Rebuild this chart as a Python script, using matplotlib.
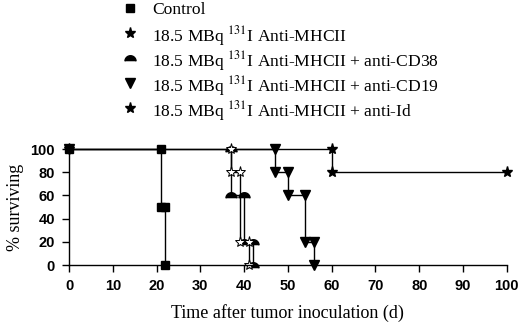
import numpy as np
import matplotlib.pyplot as plt
from matplotlib.lines import Line2D

plt.rcParams['mathtext.fontset'] = 'stix'

# Kaplan-Meier style steps (day, % surviving)
ctrl_d = [0, 21, 21, 22, 22]
ctrl_s = [100, 100, 50, 50, 0]
mhc_d = [37, 37, 39, 39, 41, 41]
mhc_s = [100, 80, 80, 20, 20, 0]
cd38_d = [37, 37, 40, 40, 42, 42]
cd38_s = [100, 60, 60, 20, 20, 0]
cd19_d = [0, 47, 47, 50, 50, 54, 54, 56, 56]
cd19_s = [100, 100, 80, 80, 60, 60, 20, 20, 0]
aid_d = [0, 60, 60, 100]
aid_s = [100, 100, 80, 80]

labels = ['Control',
          r'18.5 MBq $^{131}$I Anti-MHCII',
          r'18.5 MBq $^{131}$I Anti-MHCII + anti-CD38',
          r'18.5 MBq $^{131}$I Anti-MHCII + anti-CD19',
          r'18.5 MBq $^{131}$I Anti-MHCII + anti-Id']
xticks = np.arange(0, 101, 10)
yticks = np.arange(0, 101, 20)

# dome marker (half circle)
t = np.linspace(0, np.pi, 20)
dome = list(zip(np.cos(t), np.sin(t) - 0.5))

fig = plt.figure(figsize=(5.2, 3.22), dpi=100)
ax = fig.add_axes([0.1327, 0.177, 0.842, 0.36])

lw = 1.0
ax.plot(aid_d, aid_s, color='black', lw=lw, marker='*', ms=8, mfc='black', mec='black', clip_on=False)
ax.plot(cd19_d, cd19_s, color='black', lw=lw, marker='v', ms=6.5, mfc='black', mec='black', clip_on=False)
ax.plot(cd38_d, cd38_s, color='black', lw=lw, marker=dome, ms=8, mfc='black', mec='black', clip_on=False)
ax.plot(mhc_d, mhc_s, color='black', lw=lw, marker='*', ms=8, mfc='white', mec='black', mew=0.7, clip_on=False)
ax.plot(ctrl_d, ctrl_s, color='black', lw=lw, marker='s', ms=6, mfc='black', mec='black', clip_on=False)

ax.set_xlim(0, 100)
ax.set_ylim(0, 100)
ax.set_xticks(xticks)
ax.set_yticks(yticks)
for s in ['top', 'right']:
    ax.spines[s].set_visible(False)
for s in ['left', 'bottom']:
    ax.spines[s].set_linewidth(1.0)
ax.tick_params(direction='out', length=5, width=1.0, pad=5)
for lab in ax.get_xticklabels() + ax.get_yticklabels():
    lab.set_fontfamily('Liberation Sans')
    lab.set_fontweight('bold')
    lab.set_fontsize(10.5)

ax.set_xlabel('Time after tumor inoculation (d)', family='Liberation Serif', fontsize=13, labelpad=8)
ax.set_ylabel('% surviving', family='Liberation Serif', fontsize=13, labelpad=5)

# legend drawn by hand so rows are evenly spaced
markers = [('s', 6), ('*', 8), (dome, 8), ('v', 6.5), ('*', 8)]
for i, (lab, (mk, ms)) in enumerate(zip(labels, markers)):
    yc = 1 - (8 + 25 * i) / 322
    fig.add_artist(Line2D([130 / 520], [yc], ls='none', marker=mk, ms=ms, color='black',
                          transform=fig.transFigure))
    fig.text(152 / 520, yc, lab, family='Liberation Serif', fontsize=12.6,
             va='center_baseline', ha='left')

fig.savefig('out.png', dpi=100)
